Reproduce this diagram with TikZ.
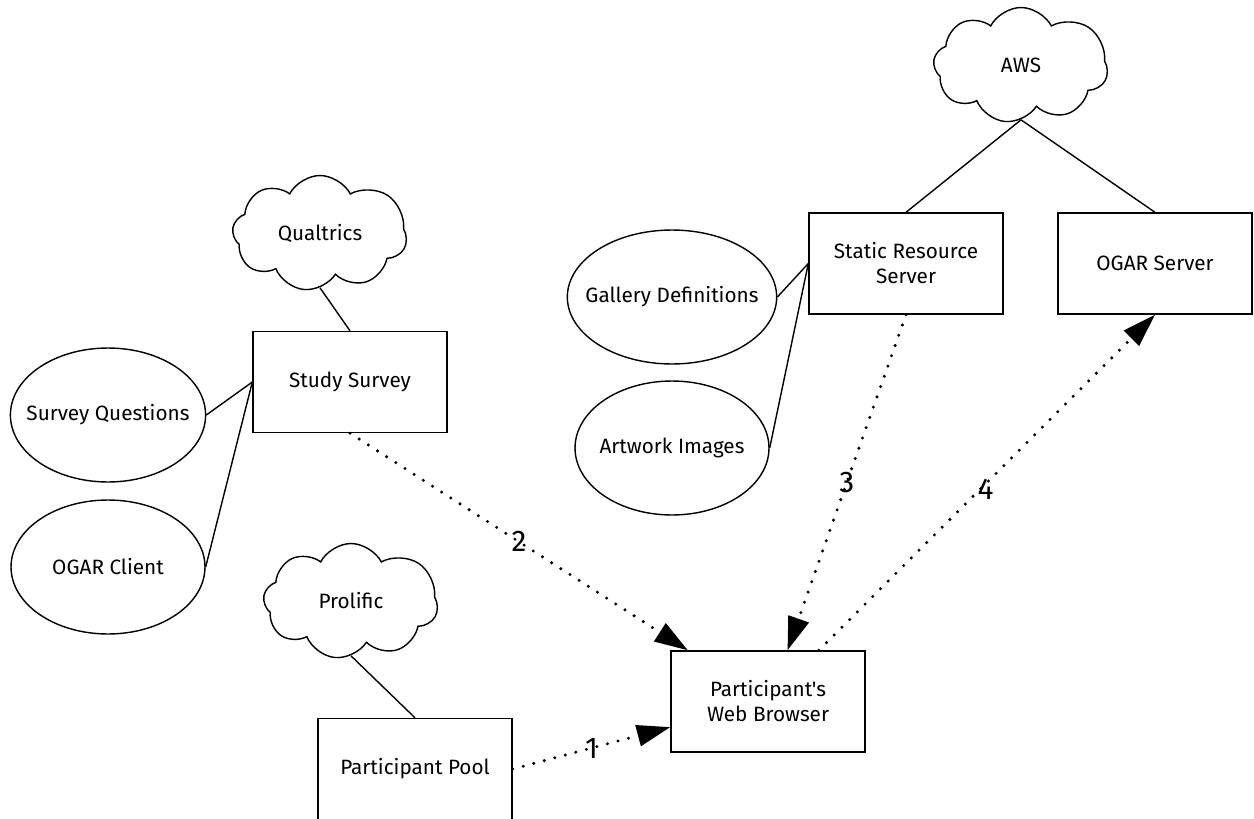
\documentclass[tikz,border=0pt]{standalone}
\usepackage{fontspec}
\setmainfont{Fira Sans}[Ligatures=TeXOff]
\usetikzlibrary{shapes.symbols, shapes.geometric, arrows.meta, calc}

\tikzset{
  cloudnode/.style={draw, line width=0.8pt, cloud, cloud puffs=8.5, cloud puff arc=125, aspect=1.5,
    minimum width=3.5cm, minimum height=2.3cm, inner sep=0pt},
  boxnode/.style={draw, line width=0.8pt, rectangle, minimum width=3.88cm, minimum height=2.02cm, align=center},
  ovalnode/.style={draw, line width=0.8pt, ellipse, minimum width=3.88cm, minimum height=2.68cm,
    inner xsep=-0.25cm, inner ysep=0pt},
  link/.style={line width=0.8pt},
  flow/.style={line width=1.9pt, line cap=round, dash pattern=on 0pt off 6.2pt,
    -{Triangle[length=19pt, width=12pt]}},
  flowlabel/.style={font=\fontsize{17}{20}\selectfont, inner sep=1pt}
}

\begin{document}
\begin{tikzpicture}[x=0.02cm, y=-0.02cm, font=\fontsize{11.8}{14.2}\selectfont]
  \clip (0,0) rectangle (1254,818);

  \node[cloudnode] (aws) at (1021,65) {AWS};
  \node[cloudnode] (qualtrics) at (320,233) {Qualtrics};
  \node[cloudnode] (prolific) at (351,601) {Prolific};

  \node[boxnode] (static) at (906,263.5) {Static Resource\\Server};
  \node[boxnode] (ogarserver) at (1155,263.5) {OGAR Server};
  \node[ovalnode] (gallery) at (672,297) {Gallery Definitions};
  \node[ovalnode] (artwork) at (672,448) {Artwork Images};

  \node[boxnode] (survey) at (350,382) {Study Survey};
  \node[ovalnode] (questions) at (108,415) {Survey Questions};
  \node[ovalnode] (client) at (108,567) {OGAR Client};

  \node[boxnode] (pool) at (415,769) {Participant Pool};
  \node[boxnode] (browser) at (768,701.5) {Participant's\\Web Browser};

  \draw[link] (aws.south) -- (static.north);
  \draw[link] (aws.south) -- (ogarserver.north);
  \draw[link] (static.west) -- (gallery.east);
  \draw[link] (static.west) -- (artwork.east);
  \draw[link] (qualtrics.south) -- (survey.north);
  \draw[link] (survey.west) -- (questions.east);
  \draw[link] (survey.west) -- (client.east);
  \draw[link] (prolific.south) -- (pool.north);

  \draw[flow] (pool.east) -- ($(browser.west)!0.5!(browser.south west)$)
    node[flowlabel, pos=0.5] {1};
  \draw[flow] (survey.south) -- ($(browser.north west)!0.09!(browser.north east)$)
    node[flowlabel, pos=0.5] {2};
  \draw[flow] (static.south) -- ($(browser.north west)!0.6!(browser.north east)$)
    node[flowlabel, pos=0.5] {3};
  \draw[flow] ($(browser.north west)!0.76!(browser.north east)$) -- (ogarserver.south)
    node[flowlabel, pos=0.48, xshift=3pt] {4};
\end{tikzpicture}
\end{document}
